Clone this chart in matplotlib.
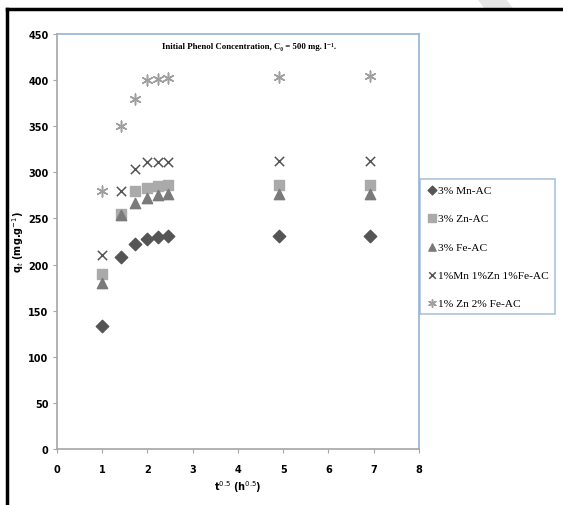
import matplotlib.pyplot as plt
from matplotlib.lines import Line2D
from matplotlib.patches import Polygon

# time^0.5 (h^0.5) for t = 1,2,3,4,5,6,24,48 h
t_sqrt = [1.0, 1.414, 1.732, 2.0, 2.236, 2.449, 4.899, 6.928]

mn = [133, 208, 222, 228, 230, 231, 231, 231]
zn = [190, 255, 280, 283, 285, 286, 286, 286]
fe = [180, 254, 267, 272, 275, 276, 276, 276]
mix = [210, 280, 304, 311, 311, 311, 312, 312]
znfe = [280, 350, 380, 400, 401, 402, 403, 404]

labels = ['3% Mn-AC', '3% Zn-AC', '3% Fe-AC', '1%Mn 1%Zn 1%Fe-AC', '1% Zn 2% Fe-AC']

tick_font = ['Liberation Sans Narrow', 'DejaVu Sans']
serif = ['Liberation Serif', 'DejaVu Serif']

fig = plt.figure(figsize=(5.63, 5.06), dpi=100)
ax = fig.add_axes([0.1012, 0.1107, 0.643, 0.8201])

ax.scatter(t_sqrt, mn, marker='D', s=40, color='#555555', label=labels[0], zorder=3)
ax.scatter(t_sqrt, zn, marker='s', s=55, color='#aaaaaa', label=labels[1], zorder=3)
ax.scatter(t_sqrt, fe, marker='^', s=55, color='#7a7a7a', label=labels[2], zorder=3)
ax.scatter(t_sqrt, mix, marker='x', s=45, color='#555555', linewidths=1.1, label=labels[3], zorder=3)
ax.scatter(t_sqrt, znfe, marker=(6, 2, 0), s=60, color='#a0a0a0', linewidths=1.1, label=labels[4], zorder=3)

ax.set_xlim(0, 8)
ax.set_ylim(0, 450)
ax.set_xticks(range(0, 9))
ax.set_yticks(range(0, 451, 50))

for s in ['left', 'bottom']:
    ax.spines[s].set_color('#a6a6a6')
    ax.spines[s].set_linewidth(1.2)
for s in ['top', 'right']:
    ax.spines[s].set_color('#95b3d7')
    ax.spines[s].set_linewidth(1.2)

ax.tick_params(direction='out', length=3, color='#a6a6a6', labelsize=7)
ax.tick_params(axis='x', pad=8)
ax.tick_params(axis='y', pad=3)
for lab in ax.get_xticklabels() + ax.get_yticklabels():
    lab.set_family(tick_font)
    lab.set_fontweight('bold')

ax.set_xlabel('t$^{0.5}$ (h$^{0.5}$)', family=tick_font, fontweight='bold', fontsize=7, labelpad=3)
ax.set_ylabel('q$_t$ (mg.g$^{-1}$)', family=tick_font, fontweight='bold', fontsize=7, labelpad=2)

ax.text(0.53, 0.972, 'Initial Phenol Concentration, C\u2080 = 500 mg. l\u207b\u00b9.',
        transform=ax.transAxes, ha='center', va='center', family=serif,
        fontweight='bold', fontsize=6.3)

leg = fig.legend(loc='upper left', bbox_to_anchor=(420 / 563, 1 - 180 / 506),
                 prop={'family': serif, 'size': 8.2}, frameon=True, fancybox=False,
                 handletextpad=0.0, handlelength=1.0, borderpad=0.55,
                 labelspacing=1.6, borderaxespad=0, markerscale=0.7)
leg.get_frame().set_edgecolor('#95b3d7')
leg.get_frame().set_linewidth(1.2)

# outer black frame (left and top) and faint watermark corner
fig.add_artist(Line2D([7 / 563, 7 / 563], [0, 1 - 10 / 506], color='black', lw=2.5,
                      transform=fig.transFigure))
fig.add_artist(Line2D([7 / 563, 1], [1 - 10 / 506, 1 - 10 / 506], color='black', lw=2.5,
                      transform=fig.transFigure))
fig.add_artist(Polygon([[478 / 563, 1], [505 / 563, 1], [512 / 563, 1 - 9 / 506], [485 / 563, 1 - 9 / 506]],
                       closed=True, color='#e6e6e6', transform=fig.transFigure, zorder=0))

fig.savefig('out.png', dpi=100)
